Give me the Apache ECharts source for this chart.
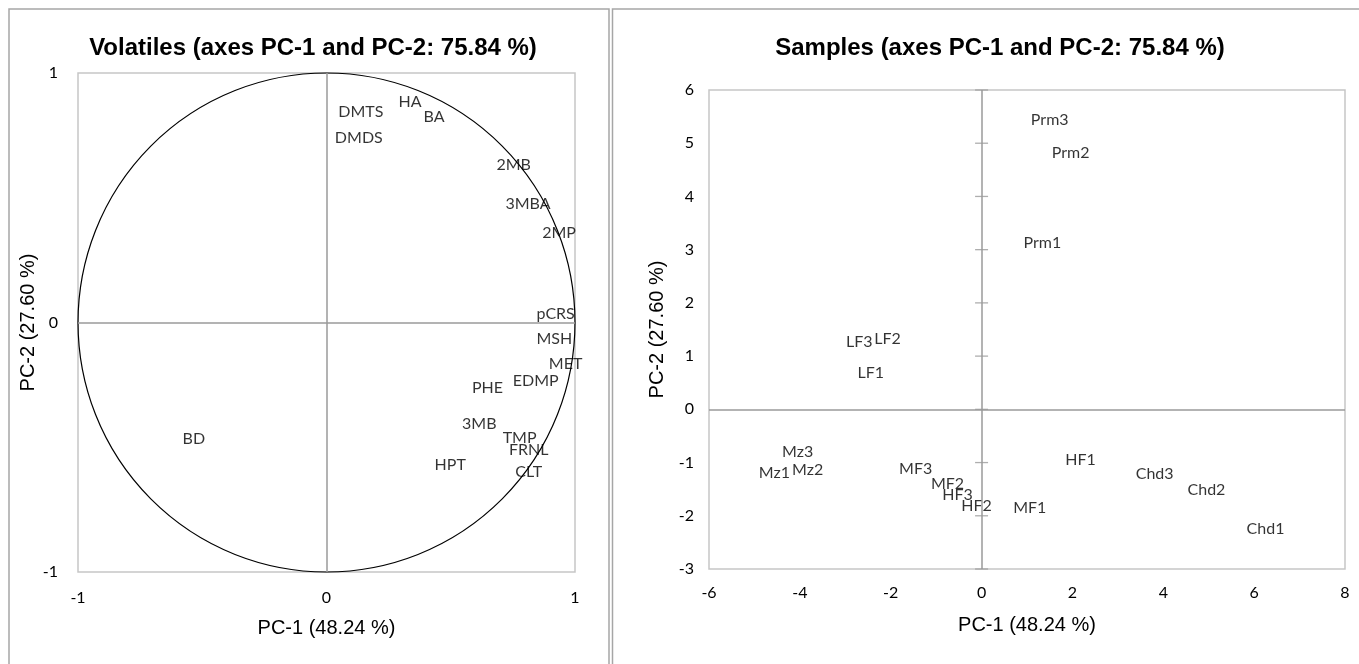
<!DOCTYPE html>
<html>
<head>
<meta charset="utf-8">
<script src="https://cdn.jsdelivr.net/npm/echarts@6/dist/echarts.min.js"></script>
<style>
html,body{margin:0;padding:0;background:#fff;}
#c{width:1359px;height:664px;}
</style>
</head>
<body>
<div id="c"></div>
<script>
// ---- Data: volatiles (loadings) ----
var volNames = ['DMTS','DMDS','HA','BA','2MB','3MBA','2MP','pCRS','MSH','MET','EDMP','PHE','3MB','TMP','FRNL','CLT','HPT','BD'];
var volX = [0.138,0.130,0.336,0.433,0.753,0.811,0.936,0.922,0.917,0.962,0.842,0.648,0.615,0.777,0.814,0.814,0.498,-0.534];
var volY = [0.843,0.739,0.884,0.824,0.631,0.474,0.361,0.036,-0.064,-0.165,-0.233,-0.261,-0.406,-0.462,-0.510,-0.598,-0.570,-0.466];
// ---- Data: samples (scores) ----
var smpNames = ['Prm3','Prm2','Prm1','LF3','LF2','LF1','Mz3','Mz1','Mz2','MF3','MF2','HF3','HF2','MF1','HF1','Chd3','Chd2','Chd1'];
var smpX = [1.50,1.96,1.34,-2.69,-2.07,-2.44,-4.05,-4.56,-3.83,-1.45,-0.75,-0.53,-0.11,1.06,2.18,3.81,4.95,6.25];
var smpY = [5.44,4.82,3.13,1.27,1.33,0.69,-0.80,-1.20,-1.14,-1.12,-1.40,-1.61,-1.81,-1.85,-0.95,-1.21,-1.51,-2.25];
// ---- Axis ticks ----
var leftTicks = [-1,0,1];
var rightXTicks = [-6,-4,-2,0,2,4,6,8];
var rightYTicks = [-3,-2,-1,0,1,2,3,4,5,6];
var circle = [[0,0,1]]; // correlation circle: centre (0,0), radius 1

var tickFont = 'Lato, "Open Sans", sans-serif';
var labFont = 'Lato, "Open Sans", sans-serif';
var arial = '"Liberation Sans", Arial, sans-serif';

function pts(xs, ys, names){
  return names.map(function(n,i){ return {name:n, value:[xs[i], ys[i]]}; });
}

var chart = echarts.init(document.getElementById('c'), null, {renderer:'canvas'});

var axisCommon = {
  type:'value',
  axisLine:{show:false},
  axisTick:{show:false},
  splitLine:{show:false},
  axisLabel:{color:'#000', fontFamily:tickFont, fontSize:16},
  nameLocation:'middle',
  nameTextStyle:{color:'#000', fontFamily:arial, fontSize:20}
};
function lab(m){ return Object.assign({}, axisCommon.axisLabel, {margin:m}); }

var option = {
  animation:false,
  backgroundColor:'#fff',
  graphic:[
    {type:'rect', shape:{x:9, y:9, width:600, height:670}, style:{fill:'none', stroke:'#a6a6a6', lineWidth:1.5}, silent:true},
    {type:'rect', shape:{x:612.5, y:9, width:760, height:670}, style:{fill:'none', stroke:'#a6a6a6', lineWidth:1.5}, silent:true}
  ],
  title:[
    {text:'Volatiles (axes PC-1 and PC-2: 75.84 %)', left:308, top:31, textAlign:'center',
     textStyle:{fontFamily:arial, fontWeight:'bold', fontSize:24, color:'#000'}},
    {text:'Samples (axes PC-1 and PC-2: 75.84 %)', left:995, top:31, textAlign:'center',
     textStyle:{fontFamily:arial, fontWeight:'bold', fontSize:24, color:'#000'}}
  ],
  grid:[
    {left:78, top:73, width:497, height:499, show:true, borderColor:'#c6c6c6', borderWidth:1.5, backgroundColor:'transparent'},
    {left:709, top:90, width:636, height:479, show:true, borderColor:'#c6c6c6', borderWidth:1.5, backgroundColor:'transparent'}
  ],
  xAxis:[
    Object.assign({}, axisCommon, {gridIndex:0, min:leftTicks[0], max:leftTicks[leftTicks.length-1], interval:1,
      name:'PC-1 (48.24 %)', nameGap:46, axisLabel:lab(18)}),
    Object.assign({}, axisCommon, {gridIndex:1, min:rightXTicks[0], max:rightXTicks[rightXTicks.length-1], interval:2,
      name:'PC-1 (48.24 %)', nameGap:46, axisLabel:lab(16)})
  ],
  yAxis:[
    Object.assign({}, axisCommon, {gridIndex:0, min:leftTicks[0], max:leftTicks[leftTicks.length-1], interval:1,
      name:'PC-2 (27.60 %)', nameGap:38, axisLabel:lab(20)}),
    Object.assign({}, axisCommon, {gridIndex:1, min:rightYTicks[0], max:rightYTicks[rightYTicks.length-1], interval:1,
      name:'PC-2 (27.60 %)', nameGap:42, axisLabel:lab(15)})
  ],
  series:[
    // correlation circle
    {type:'custom', xAxisIndex:0, yAxisIndex:0, silent:true, data:circle,
     renderItem:function(params, api){
       var c = api.coord([api.value(0), api.value(1)]);
       var s = api.size([api.value(2), api.value(2)]);
       var rx = s[0], ry = s[1];
       var d = 'M'+(c[0]-rx)+' '+c[1]+' A'+rx+' '+ry+' 0 1 0 '+(c[0]+rx)+' '+c[1]+' A'+rx+' '+ry+' 0 1 0 '+(c[0]-rx)+' '+c[1]+' Z';
       return {type:'path', shape:{pathData:d}, style:{fill:'none', stroke:'#000', lineWidth:1.2}};
     }},
    // left zero lines + labels
    {type:'scatter', xAxisIndex:0, yAxisIndex:0, symbolSize:0, silent:true,
     data:pts(volX, volY, volNames),
     label:{show:true, position:'inside', formatter:function(p){return p.name;}, color:'#000', fontFamily:labFont, fontSize:16},
     markLine:{silent:true, symbol:'none', label:{show:false}, lineStyle:{color:'#9a9a9a', type:'solid', width:1.5},
       data:[{xAxis:0},{yAxis:0}]}},
    // right zero lines + labels
    {type:'scatter', xAxisIndex:1, yAxisIndex:1, symbolSize:0, silent:true,
     data:pts(smpX, smpY, smpNames),
     label:{show:true, position:'inside', formatter:function(p){return p.name;}, color:'#000', fontFamily:labFont, fontSize:16},
     markLine:{silent:true, symbol:'none', label:{show:false}, lineStyle:{color:'#9a9a9a', type:'solid', width:1.5},
       data:[{xAxis:0},{yAxis:0}]}},
    // tick marks crossing the vertical zero line on the right plot
    {type:'scatter', xAxisIndex:1, yAxisIndex:1, silent:true, symbol:'rect', symbolSize:[13,1.3],
     itemStyle:{color:'#9a9a9a'},
     data:rightYTicks.map(function(v){return [0, v];})}
  ]
};
chart.setOption(option);
</script>
</body>
</html>
